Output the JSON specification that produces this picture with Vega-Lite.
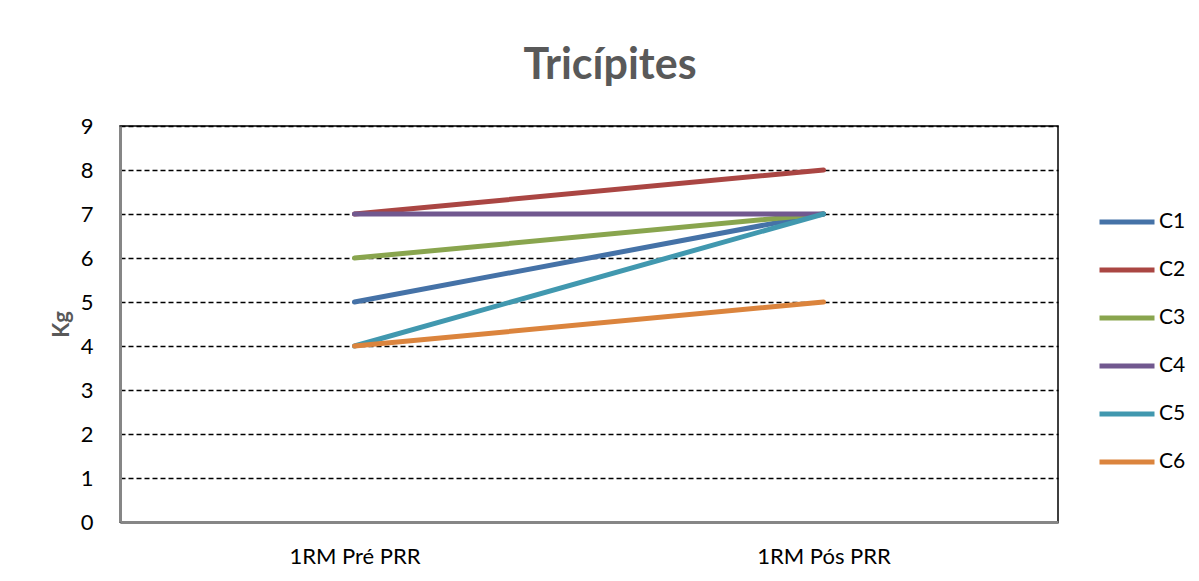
{
  "$schema": "https://vega.github.io/schema/vega-lite/v6.json",
  "width": 938,
  "height": 396,
  "autosize": {"type": "none"},
  "padding": {"left": 120, "top": 126, "right": 141, "bottom": 59},
  "background": "white",
  "title": {
    "text": "Tricípites",
    "font": "Lato",
    "fontSize": 43,
    "fontWeight": "bold",
    "color": "#595959",
    "anchor": "middle",
    "frame": "group",
    "baseline": "alphabetic",
    "offset": 46,
    "dy": 53,
    "dx": 21
  },
  "data": {
    "values": [
      {"serie": "C1", "momento": "1RM Pré PRR", "kg": 5},
      {"serie": "C1", "momento": "1RM Pós PRR", "kg": 7},
      {"serie": "C2", "momento": "1RM Pré PRR", "kg": 7},
      {"serie": "C2", "momento": "1RM Pós PRR", "kg": 8},
      {"serie": "C3", "momento": "1RM Pré PRR", "kg": 6},
      {"serie": "C3", "momento": "1RM Pós PRR", "kg": 7},
      {"serie": "C4", "momento": "1RM Pré PRR", "kg": 7},
      {"serie": "C4", "momento": "1RM Pós PRR", "kg": 7},
      {"serie": "C5", "momento": "1RM Pré PRR", "kg": 4},
      {"serie": "C5", "momento": "1RM Pós PRR", "kg": 7},
      {"serie": "C6", "momento": "1RM Pré PRR", "kg": 4},
      {"serie": "C6", "momento": "1RM Pós PRR", "kg": 5}
    ]
  },
  "mark": {"type": "line", "strokeWidth": 5, "strokeCap": "round", "strokeJoin": "round"},
  "encoding": {
    "x": {
      "field": "momento",
      "type": "nominal",
      "sort": ["1RM Pré PRR", "1RM Pós PRR"],
      "scale": {"type": "point", "padding": 0.5},
      "axis": {
        "title": null,
        "labelAngle": 0,
        "labelFont": "Lato",
        "labelFontSize": 22,
        "labelColor": "#000000",
        "labelPadding": 24,
        "ticks": false,
        "grid": false,
        "domainColor": "#868686",
        "domainWidth": 3
      }
    },
    "y": {
      "field": "kg",
      "type": "quantitative",
      "scale": {"domain": [0, 9], "nice": false, "zero": true},
      "axis": {
        "title": "Kg",
        "titleFont": "Lato",
        "titleFontSize": 22,
        "titleFontWeight": "bold",
        "titleColor": "#595959",
        "titleAngle": -90,
        "titleX": -59,
        "titleY": 198,
        "titleAlign": "center",
        "titleBaseline": "middle",
        "values": [0, 1, 2, 3, 4, 5, 6, 7, 8, 9],
        "labelFont": "Lato",
        "labelFontSize": 22,
        "labelColor": "#000000",
        "labelPadding": 27,
        "ticks": false,
        "domainColor": "#868686",
        "domainWidth": 3,
        "grid": true,
        "gridColor": "#000000",
        "gridWidth": 1.4,
        "gridDash": [5, 3],
        "gridOpacity": 1
      }
    },
    "color": {
      "field": "serie",
      "type": "nominal",
      "scale": {
        "domain": ["C1", "C2", "C3", "C4", "C5", "C6"],
        "range": ["#4572A7", "#AA4643", "#89A54E", "#71588F", "#4198AF", "#DB843D"]
      },
      "legend": {
        "title": null,
        "orient": "none",
        "legendX": 977,
        "legendY": 72,
        "symbolType": "stroke",
        "symbolStrokeWidth": 5,
        "symbolSize": 3025,
        "clipHeight": 48,
        "rowPadding": 0,
        "labelFont": "Lato",
        "labelFontSize": 21,
        "labelColor": "#000000",
        "labelOffset": 2
      }
    }
  },
  "config": {
    "view": {"stroke": "#000000", "strokeWidth": 1.5}
  }
}
